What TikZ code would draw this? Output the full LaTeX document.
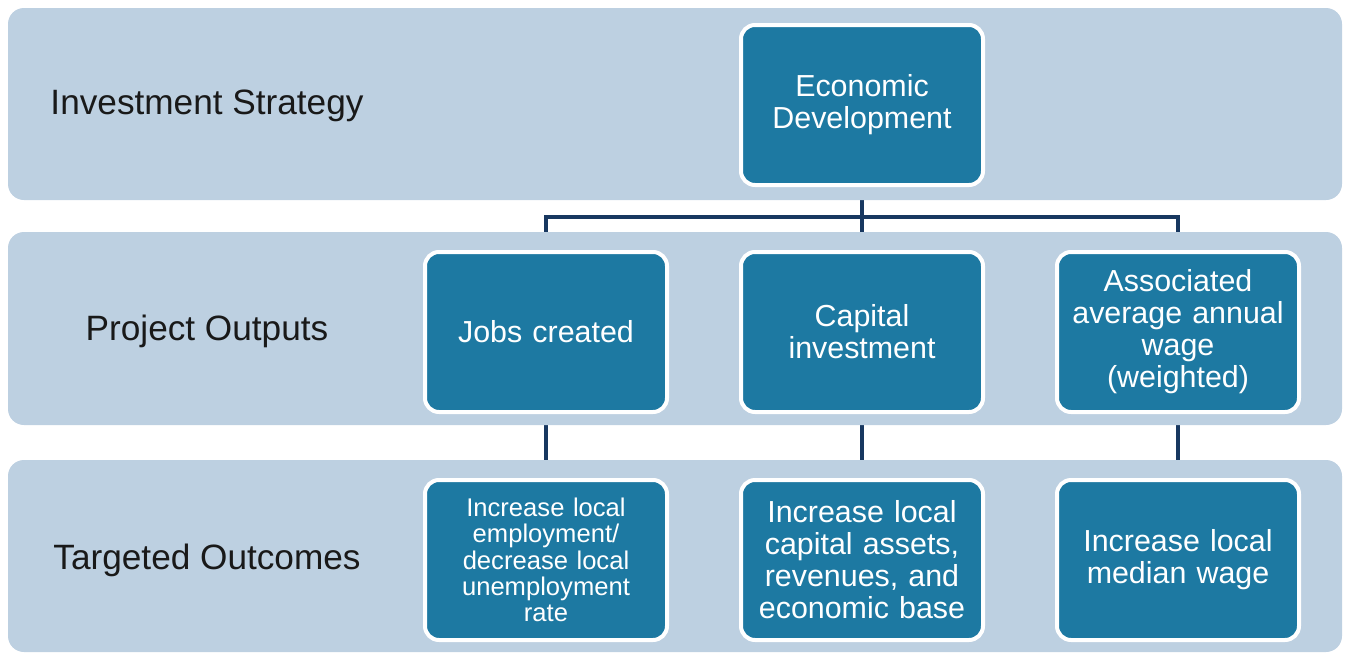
\documentclass[tikz,border=0pt]{standalone}
\usepackage{fontspec}
\setmainfont{Liberation Sans}
\usetikzlibrary{positioning, backgrounds}
\definecolor{bandblue}{RGB}{189,208,225}
\definecolor{boxblue}{RGB}{29,121,162}
\definecolor{linknavy}{RGB}{24,56,96}

\begin{document}
\begin{tikzpicture}[
		x=0.5pt, y=-0.5pt,
		node distance=0pt and 35pt,
		band/.style={fill=bandblue, rounded corners=8pt},
		rowlabel/.style={font=\fontsize{17.6}{20}\selectfont, text=black!90},
		box/.style={draw=white, line width=2pt, fill=boxblue, rounded corners=7pt, text=white, align=center,
			minimum width=121pt, minimum height=80pt, text width=114pt, font=\fontsize{15.2}{16}\selectfont},
		smallbox/.style={box, font=\fontsize{12.8}{13.1}\selectfont},
		link/.style={draw=linknavy, line width=2pt}
		]
		\useasboundingbox (0,0) rectangle (1351,654);
		
		% BANDS
		\fill[band] (8,8) rectangle (1342,200);
		\fill[band] (8,232) rectangle (1342,425);
		\fill[band] (8,460) rectangle (1342,652);
		
		% ROW LABELS
		\node[rowlabel] (strategy) at (207,106) {Investment Strategy};
		\node[rowlabel] (outputs) at (207,331) {Project Outputs};
		\node[rowlabel] (outcomes) at (207,560) {Targeted Outcomes};
		
		% STRATEGY
		\node[box] (econ) at (862,105) {Economic\\Development};
		
		% OUTPUTS
		\node[box] (capital) at (862,332) {Capital\\investment};
		\node[box, left=of capital] (jobs) {Jobs created};
		\node[box, right=of capital] (wage) {Associated\\average annual\\wage\\(weighted)};
		
		% OUTCOMES
		\node[smallbox, below=114pt of jobs.center, anchor=center] (employ) {Increase local\\employment/\\decrease local\\unemployment\\rate};
		\node[box, below=114pt of capital.center, anchor=center] (assets) {Increase local\\capital assets,\\revenues, and\\economic base};
		\node[box, below=114pt of wage.center, anchor=center] (median) {Increase local\\median wage};
		
		% CONNECTIONS
		\coordinate (bus) at (862,217);
		\begin{scope}[on background layer]
			\draw[link] (econ) -- (capital);
			\draw[link] (jobs.north) |- (bus) -| (wage.north);
			\draw[link] (jobs) -- (employ);
			\draw[link] (capital) -- (assets);
			\draw[link] (wage) -- (median);
		\end{scope}
		
	\end{tikzpicture}
\end{document}
